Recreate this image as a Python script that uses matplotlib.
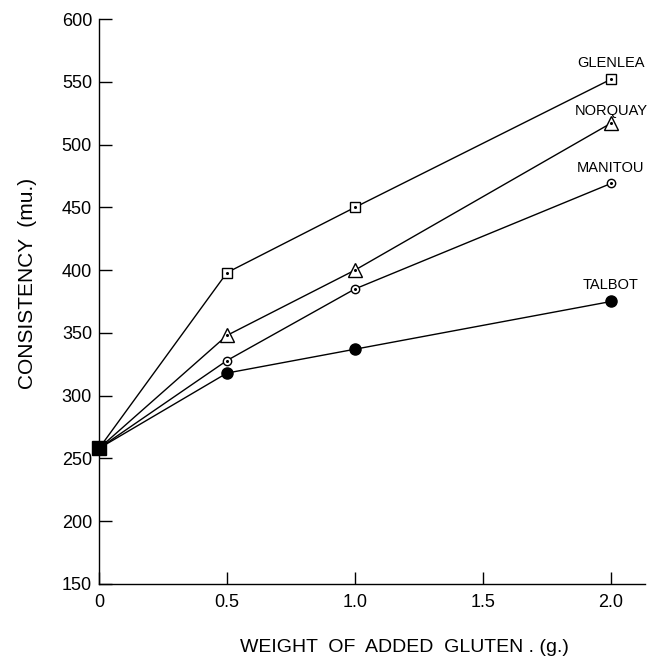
import matplotlib
matplotlib.use("Agg")
from matplotlib import pyplot as plt

# data
gluten = [0, 0.5, 1.0, 2.0]
glenlea = [258, 398, 450, 552]
norquay = [258, 348, 400, 517]
manitou = [258, 328, 385, 469]
talbot = [258, 318, 337, 375]

names = ["GLENLEA", "NORQUAY", "MANITOU", "TALBOT"]
x_ticks = [0, 0.5, 1.0, 1.5, 2.0]
x_tick_labels = ["0", "0.5", "1.0", "1.5", "2.0"]
y_ticks = [150, 200, 250, 300, 350, 400, 450, 500, 550, 600]

plt.rcParams['font.family'] = ['Liberation Sans', 'DejaVu Sans']

fig = plt.figure(figsize=(6.48, 6.66), dpi=100)
ax = fig.add_axes([99/648, 82/666, 546/648, 565/666])
ax.set_xlim(0, 2.133)
ax.set_ylim(150, 600)

series = [glenlea, norquay, manitou, talbot]
markers = ['s', '^', 'o', 'o']
sizes = [7, 10, 6, 8]
fills = ['white', 'white', 'white', 'black']
label_dy = [11.5, 9, 11.5, 12]

for vals, mk, ms, fc, name, dy in zip(series, markers, sizes, fills, names, label_dy):
    ax.plot(gluten, vals, color='black', lw=1.0, zorder=2, clip_on=False)
    ax.plot(gluten[1:], vals[1:], linestyle='none', marker=mk, ms=ms,
            mfc=fc, mec='black', mew=1.0, zorder=3, clip_on=False)
    if fc == 'white':
        ax.plot(gluten[1:], vals[1:], linestyle='none', marker='o', ms=1.2,
                color='black', zorder=4, clip_on=False)
    ax.annotate(name, (gluten[-1], vals[-1]), xytext=(0, dy),
                textcoords='offset points', ha='center', va='center',
                fontsize=10.5)

# common starting point
ax.plot(gluten[0], glenlea[0], linestyle='none', marker='s', ms=10,
        color='black', zorder=5, clip_on=False)

for side in ['top', 'right']:
    ax.spines[side].set_visible(False)
for side in ['left', 'bottom']:
    ax.spines[side].set_linewidth(1.0)

ax.set_xticks(x_ticks)
ax.set_xticklabels(x_tick_labels)
ax.set_yticks(y_ticks)
ax.tick_params(axis='both', direction='in', length=9, width=1.0,
               labelsize=13)
ax.tick_params(axis='x', pad=7)
ax.tick_params(axis='y', pad=5)

fig.text(28/648, 1 - 283/666, "CONSISTENCY  (mu.)", rotation=90,
         ha='center', va='center', fontsize=15)
fig.text(404/648, 1 - 648/666, "WEIGHT  OF  ADDED  GLUTEN . (g.)",
         ha='center', va='center', fontsize=14)

fig.savefig("out.png", dpi=100)
